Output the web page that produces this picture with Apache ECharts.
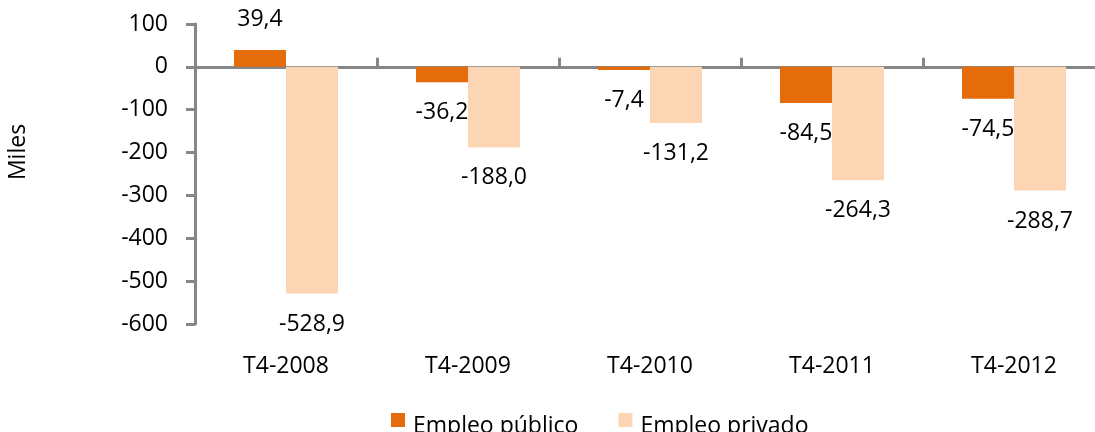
<!DOCTYPE html>
<html>
<head>
<meta charset="utf-8">
<script src="https://cdn.jsdelivr.net/npm/echarts@6/dist/echarts.min.js"></script>
<style>
  html, body { margin: 0; padding: 0; background: #fff; }
  #chart { width: 1095px; height: 432px; }
</style>
</head>
<body>
<div id="chart"></div>
<script>
  var categories = ['T4-2008', 'T4-2009', 'T4-2010', 'T4-2011', 'T4-2012'];
  var publico = [39.4, -36.2, -7.4, -84.5, -74.5];
  var privado = [-528.9, -188.0, -131.2, -264.3, -288.7];
  var seriesNames = ['Empleo público', 'Empleo privado'];

  var FONT = '"Open Sans", sans-serif';
  var FS = 23;
  var AXIS = '#868686';

  //etiqueta arriba si positivo, abajo si negativo
  function withLabels(arr) {
    return arr.map(function (v) {
      return {
        value: v,
        label: { position: v >= 0 ? 'top' : 'bottom' }
      };
    });
  }
  function fmt(p) {
    return p.value.toFixed(1).replace('.', ',');
  }

  var chart = echarts.init(document.getElementById('chart'));
  var label = {
    show: true,
    distance: 19,
    formatter: fmt,
    color: '#000',
    fontFamily: FONT,
    fontSize: FS
  };
  chart.setOption({
    animation: false,
    grid: { left: 195, width: 910, top: 24, bottom: 108, outerBoundsMode: 'none', containLabel: false },
    legend: {
      data: seriesNames,
      left: 386,
      top: 408,
      itemWidth: 14,
      itemHeight: 26,
      itemGap: 40,
      //cuadro arriba, texto algo mas abajo
      icon: 'path://M0,0H14V14H0Z M0,26',
      textStyle: { fontFamily: FONT, fontSize: FS, color: '#000', padding: [0, 0, 0, 3] }
    },
    graphic: [{
      type: 'text',
      x: 18,
      y: 152,
      rotation: Math.PI / 2,
      style: {
        text: 'Miles',
        fontFamily: FONT,
        fontSize: FS,
        fill: '#000',
        align: 'center',
        verticalAlign: 'middle'
      }
    }],
    xAxis: [{
      type: 'category',
      data: categories,
      position: 'bottom',
      axisLine: { show: false, onZero: false },
      axisTick: { show: false },
      axisLabel: { margin: 31, color: '#000', fontFamily: FONT, fontSize: FS }
    }, {
      type: 'category',
      data: categories,
      axisLine: { show: true, onZero: true, lineStyle: { color: AXIS, width: 3 } },
      axisTick: { show: true, length: 9, lineStyle: { color: AXIS, width: 3 } },
      axisLabel: { show: false }
    }],
    yAxis: {
      type: 'value',
      min: -600,
      max: 100,
      interval: 100,
      axisLine: { show: true, lineStyle: { color: AXIS, width: 3 } },
      axisTick: { show: true, length: 9, lineStyle: { color: AXIS, width: 3 } },
      splitLine: { show: false },
      axisLabel: { margin: 27, color: '#000', fontFamily: FONT, fontSize: FS }
    },
    series: [{
      name: seriesNames[0],
      type: 'bar',
      xAxisIndex: 0,
      barWidth: 52,
      barGap: '0%',
      itemStyle: { color: '#E46C0A' },
      label: label,
      data: withLabels(publico)
    }, {
      name: seriesNames[1],
      type: 'bar',
      xAxisIndex: 0,
      barWidth: 52,
      barGap: '0%',
      itemStyle: { color: '#FCD5B5' },
      label: label,
      data: withLabels(privado)
    }]
  });
</script>
</body>
</html>
